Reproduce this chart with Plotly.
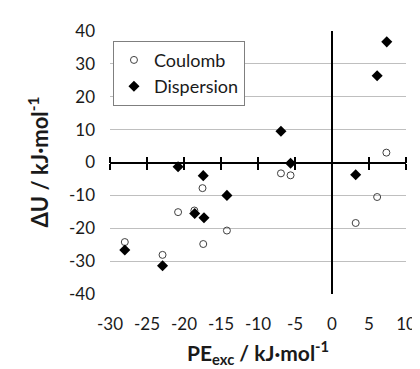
import plotly.graph_objects as go

# PE_exc values (kJ/mol), shared by both series
pe_exc = [-28.0, -22.9, -20.8, -18.6, -17.4, -17.5, -14.2, -6.9, -5.6, 3.2, 6.1, 7.35]
coulomb = [-24.2, -28.1, -15.1, -14.6, -24.8, -7.8, -20.7, -3.3, -3.9, -18.4, -10.5, 3.0]
pe_exc_disp = [-28.0, -22.9, -20.8, -18.55, -17.4, -17.3, -14.2, -6.9, -5.6, 3.2, 6.1, 7.4]
dispersion = [-26.6, -31.4, -1.3, -15.5, -4.0, -16.8, -10.0, 9.5, -0.2, -3.7, 26.4, 36.7]

x_ticks = [-30, -25, -20, -15, -10, -5, 0, 5, 10]
x_tick_labels = ["-30", "-25", "-20", "-15", "-10", "-5", "0", "5", "10"]
y_ticks = [-40, -30, -20, -10, 0, 10, 20, 30, 40]
y_tick_labels = ["-40", "-30", "-20", "-10", "0", "10", "20", "30", "40"]

FONT = "Lato"
TXT = "#1a1a1a"

fig = go.Figure()
fig.add_trace(go.Scatter(
    x=pe_exc, y=coulomb, mode="markers", name="Coulomb",
    marker=dict(symbol="circle-open", size=7, color="#404040", line=dict(width=1, color="#404040")),
))
fig.add_trace(go.Scatter(
    x=pe_exc_disp, y=dispersion, mode="markers", name="Dispersion",
    marker=dict(symbol="diamond", size=8.5, color="black"),
))
# empty traces so the tick-only axes crossing at y=0 are drawn
for ax in ("x2", "x3"):
    fig.add_trace(go.Scatter(x=[], y=[], xaxis=ax, yaxis="y", showlegend=False, hoverinfo="skip"))

common_tick_axis = dict(
    range=[-30, 10], tickvals=x_ticks, showgrid=False, zeroline=False,
    showticklabels=False, showline=False, ticks="outside", ticklen=6,
    tickwidth=1.5, tickcolor="black", overlaying="x", anchor="free", position=0.5,
)

fig.update_layout(
    width=420, height=369,
    margin=dict(l=102, r=13, t=18, b=83),
    paper_bgcolor="white", plot_bgcolor="white",
    font=dict(family=FONT, size=17, color=TXT),
    showlegend=True,
    legend=dict(
        x=0.01, y=0.963, xanchor="left", yanchor="top",
        bgcolor="white", bordercolor="#7f7f7f", borderwidth=1,
        font=dict(family=FONT, size=18, color=TXT),
        itemwidth=30, tracegroupgap=0,
    ),
    xaxis=dict(
        range=[-30, 10], tickvals=x_ticks, ticktext=x_tick_labels, showgrid=False,
        zeroline=True, zerolinecolor="black", zerolinewidth=2,
        showline=False, ticks="", ticklabelstandoff=18,
        tickfont=dict(family=FONT, size=17, color=TXT),
    ),
    xaxis2=dict(common_tick_axis, side="bottom"),
    xaxis3=dict(common_tick_axis, side="top"),
    yaxis=dict(
        range=[-40, 40], tickvals=y_ticks, ticktext=y_tick_labels,
        showgrid=True, gridcolor="#bfbfbf", gridwidth=1,
        zeroline=True, zerolinecolor="black", zerolinewidth=1.5,
        showline=False, ticks="", ticklabelstandoff=14,
        tickfont=dict(family=FONT, size=17, color=TXT),
    ),
    annotations=[
        dict(text="<b>ΔU / kJ·mol<sup>-1</sup></b>", xref="paper", yref="paper",
             x=-0.243, y=0.5, xanchor="center", yanchor="middle", textangle=-90,
             showarrow=False, font=dict(family=FONT, size=22, color=TXT)),
        dict(text="<b>PE<sub>exc</sub> / kJ·mol<sup>-1</sup></b>", xref="paper", yref="paper",
             x=0.5, y=-0.224, xanchor="center", yanchor="middle",
             showarrow=False, font=dict(family=FONT, size=21, color=TXT)),
    ],
)

fig.write_html("out.html")
